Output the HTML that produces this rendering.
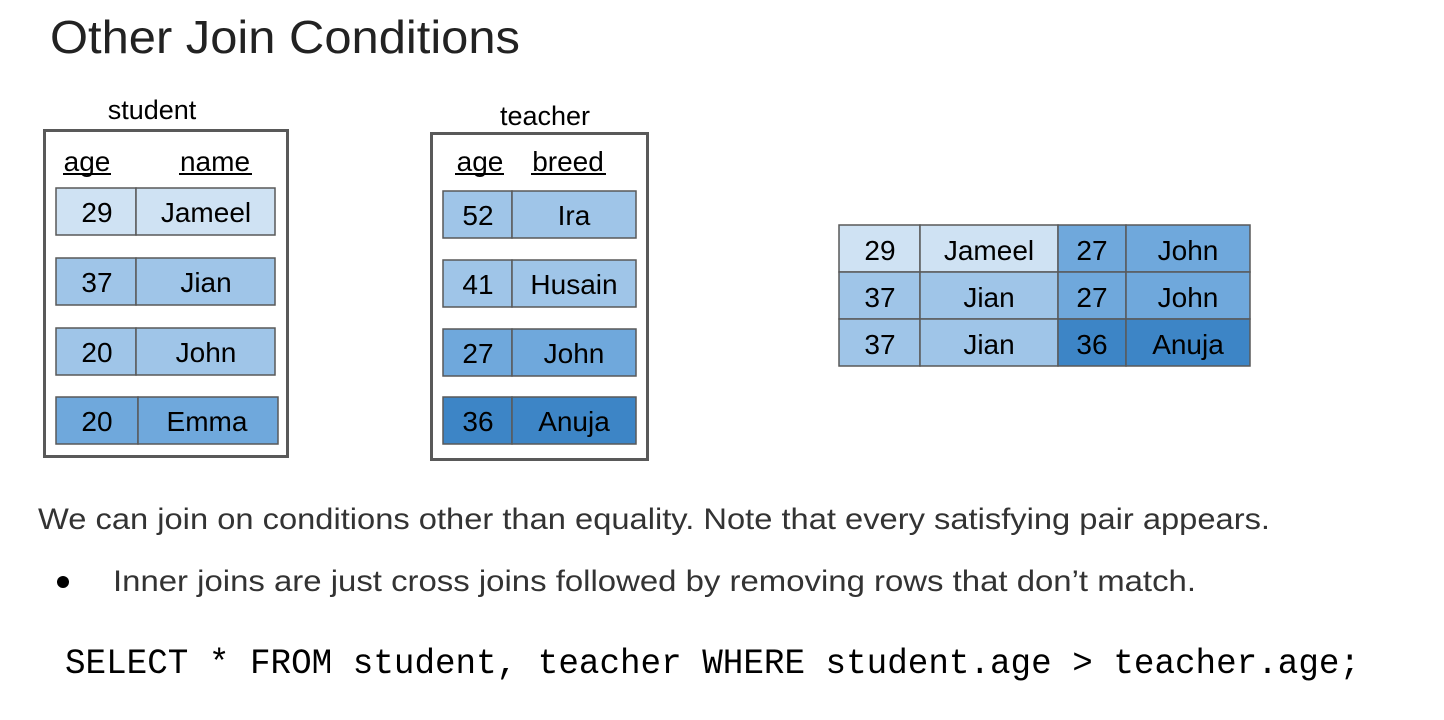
<!DOCTYPE html>
<html><head><meta charset="utf-8"><style>html,body{margin:0;padding:0;background:#fff;}svg{display:block}</style></head>
<body>
<svg width="1444" height="720" xmlns="http://www.w3.org/2000/svg" font-family="Liberation Sans, sans-serif">
<rect width="1444" height="720" fill="#fff"/>
<text x="50" y="53" font-size="46" fill="#222" textLength="470" lengthAdjust="spacingAndGlyphs">Other Join Conditions</text>

<!-- student -->
<text x="152" y="119" font-size="27" text-anchor="middle" fill="#000">student</text>
<rect x="44.5" y="130.5" width="243" height="326" fill="none" stroke="#595959" stroke-width="3"/>
<text x="87" y="171" font-size="28" text-anchor="middle">age</text>
<text x="215" y="171" font-size="28" text-anchor="middle">name</text>
<line x1="63" y1="174" x2="111" y2="174" stroke="#000" stroke-width="2"/>
<line x1="179" y1="174" x2="252" y2="174" stroke="#000" stroke-width="2"/>
<g stroke="#595959" stroke-width="1.5">
<rect x="56" y="188" width="80" height="47" fill="#cfe2f3"/><rect x="136" y="188" width="139" height="47" fill="#cfe2f3"/>
<rect x="56" y="258" width="80" height="47" fill="#9fc5e8"/><rect x="136" y="258" width="139" height="47" fill="#9fc5e8"/>
<rect x="56" y="328" width="80" height="47" fill="#9fc5e8"/><rect x="136" y="328" width="139" height="47" fill="#9fc5e8"/>
<rect x="56" y="397" width="82" height="47" fill="#6fa8dc"/><rect x="138" y="397" width="140" height="47" fill="#6fa8dc"/>
</g>
<g font-size="28" text-anchor="middle" fill="#000">
<text x="97" y="222">29</text><text x="206" y="222">Jameel</text>
<text x="97" y="292">37</text><text x="206" y="292">Jian</text>
<text x="97" y="362">20</text><text x="206" y="362">John</text>
<text x="97" y="431">20</text><text x="207" y="431">Emma</text>
</g>

<!-- teacher -->
<text x="545" y="125" font-size="27" text-anchor="middle" fill="#000">teacher</text>
<rect x="431.5" y="133.5" width="216" height="326" fill="none" stroke="#595959" stroke-width="3"/>
<text x="480" y="171" font-size="28" text-anchor="middle">age</text>
<text x="568" y="171" font-size="28" text-anchor="middle">breed</text>
<line x1="455" y1="174" x2="504" y2="174" stroke="#000" stroke-width="2"/>
<line x1="531" y1="174" x2="606" y2="174" stroke="#000" stroke-width="2"/>
<g stroke="#595959" stroke-width="1.5">
<rect x="443" y="191" width="69" height="47" fill="#9fc5e8"/><rect x="512" y="191" width="124" height="47" fill="#9fc5e8"/>
<rect x="443" y="260" width="69" height="47" fill="#9fc5e8"/><rect x="512" y="260" width="124" height="47" fill="#9fc5e8"/>
<rect x="443" y="329" width="69" height="47" fill="#6fa8dc"/><rect x="512" y="329" width="124" height="47" fill="#6fa8dc"/>
<rect x="443" y="397" width="69" height="47" fill="#3d85c6"/><rect x="512" y="397" width="124" height="47" fill="#3d85c6"/>
</g>
<g font-size="28" text-anchor="middle" fill="#000">
<text x="478" y="225">52</text><text x="574" y="225">Ira</text>
<text x="478" y="294">41</text><text x="574" y="294">Husain</text>
<text x="478" y="363">27</text><text x="574" y="363">John</text>
<text x="478" y="431">36</text><text x="574" y="431">Anuja</text>
</g>

<!-- result -->
<g stroke="#595959" stroke-width="1.5">
<rect x="839" y="225" width="81" height="47" fill="#cfe2f3"/><rect x="920" y="225" width="138" height="47" fill="#cfe2f3"/>
<rect x="1058" y="225" width="68" height="47" fill="#6fa8dc"/><rect x="1126" y="225" width="124" height="47" fill="#6fa8dc"/>
<rect x="839" y="272" width="81" height="47" fill="#9fc5e8"/><rect x="920" y="272" width="138" height="47" fill="#9fc5e8"/>
<rect x="1058" y="272" width="68" height="47" fill="#6fa8dc"/><rect x="1126" y="272" width="124" height="47" fill="#6fa8dc"/>
<rect x="839" y="319" width="81" height="47" fill="#9fc5e8"/><rect x="920" y="319" width="138" height="47" fill="#9fc5e8"/>
<rect x="1058" y="319" width="68" height="47" fill="#3d85c6"/><rect x="1126" y="319" width="124" height="47" fill="#3d85c6"/>
</g>
<g font-size="28" text-anchor="middle" fill="#000">
<text x="880" y="260">29</text><text x="989" y="260">Jameel</text><text x="1092" y="260">27</text><text x="1188" y="260">John</text>
<text x="880" y="307">37</text><text x="989" y="307">Jian</text><text x="1092" y="307">27</text><text x="1188" y="307">John</text>
<text x="880" y="354">37</text><text x="989" y="354">Jian</text><text x="1092" y="354">36</text><text x="1188" y="354">Anuja</text>
</g>

<text x="38" y="529" font-size="30" fill="#333" textLength="1232" lengthAdjust="spacingAndGlyphs">We can join on conditions other than equality. Note that every satisfying pair appears.</text>
<circle cx="63" cy="582" r="6" fill="#000"/>
<text x="113" y="591" font-size="30" fill="#333" textLength="1083" lengthAdjust="spacingAndGlyphs">Inner joins are just cross joins followed by removing rows that don’t match.</text>
<text x="65" y="673" font-size="35" font-family="Liberation Mono, monospace" fill="#000" textLength="1295" lengthAdjust="spacingAndGlyphs">SELECT * FROM student, teacher WHERE student.age &gt; teacher.age;</text>
</svg>
</body></html>
